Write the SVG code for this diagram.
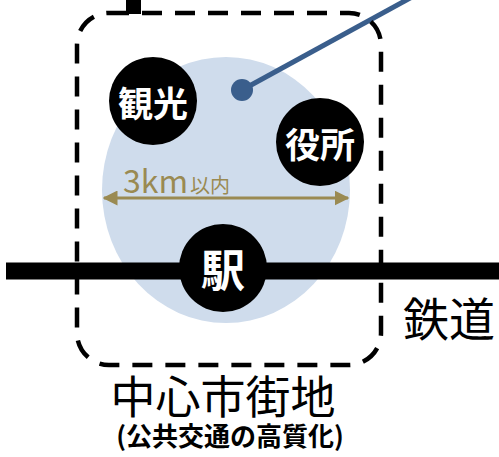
<svg xmlns="http://www.w3.org/2000/svg" width="499" height="457" viewBox="0 0 499 457">
<style>
.node circle{fill:#000}
.node text{fill:#fff;font-family:"Noto Sans CJK JP",sans-serif;font-weight:bold;text-anchor:middle;dominant-baseline:central}
.lbl{font-family:"Noto Sans CJK JP",sans-serif;fill:#000}
</style>
<defs>
<marker id="ah" viewBox="0 0 10 10" refX="9" refY="5" markerWidth="5" markerHeight="5" orient="auto-start-reverse" markerUnits="strokeWidth">
<path d="M0,0 L10,5 L0,10 z" fill="#9a8a52"/>
</marker>
</defs>
<rect width="499" height="457" fill="#fff"/>
<ellipse id="area" cx="226" cy="190" rx="124" ry="133" fill="#cfdcec"/>
<g id="connectors">
<rect x="126" y="0" width="15" height="14" fill="#000"/>
<line x1="242" y1="90" x2="412" y2="-3" stroke="#3a5e8c" stroke-width="5"/>
<circle cx="242" cy="90" r="11" fill="#3a5e8c"/>
<line x1="104" y1="198" x2="348" y2="198" stroke="#9a8a52" stroke-width="3" marker-start="url(#ah)" marker-end="url(#ah)"/>
<line x1="6" y1="271" x2="499" y2="271" stroke="#000" stroke-width="17"/>
</g>
<g id="city">
<rect x="77" y="13" width="304" height="352" rx="32" fill="none" stroke="#000" stroke-width="4.5" stroke-dasharray="20 13"/>
<text class="lbl" x="223" y="414" font-size="45" text-anchor="middle">中心市街地</text>
<text class="lbl" x="230" y="446" font-size="26" font-weight="bold" text-anchor="middle">(公共交通の高質化)</text>
</g>
<g id="dist">
<text x="123" y="193" fill="#9a8a52" font-family="Noto Sans CJK JP,sans-serif"><tspan font-size="32">3km</tspan><tspan font-size="20" dx="2">以内</tspan></text>
</g>
<g id="kanko" class="node"><circle cx="153" cy="101" r="44"/><text x="153" y="101" font-size="35">観光</text></g>
<g id="yakusho" class="node"><circle cx="320" cy="142" r="44"/><text x="320" y="142" font-size="35">役所</text></g>
<g id="eki" class="node"><circle cx="223" cy="268" r="44"/><text x="223" y="268" font-size="44">駅</text></g>
<g id="rail"><text class="lbl" x="403" y="336" font-size="46">鉄道</text></g>
</svg>
